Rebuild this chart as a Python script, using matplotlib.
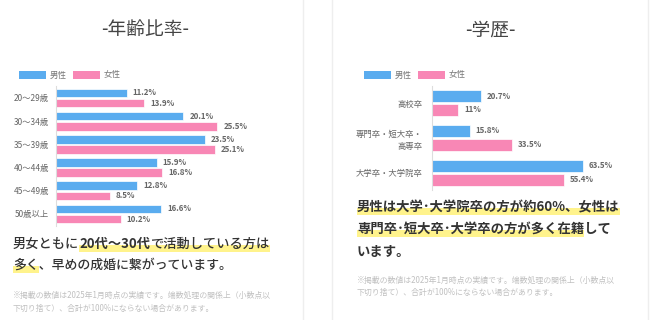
import matplotlib
matplotlib.use('Agg')
import matplotlib.pyplot as plt
from matplotlib.patches import Rectangle
import numpy as np

plt.rcParams['font.family'] = ['Noto Sans CJK JP', 'DejaVu Sans']

# データ
age_labels = ['20〜29歳', '30〜34歳', '35〜39歳', '40〜44歳', '45〜49歳', '50歳以上']
age_male = [11.2, 20.1, 23.5, 15.9, 12.8, 16.6]
age_female = [13.9, 25.5, 25.1, 16.8, 8.5, 10.2]

edu_labels = ['高校卒', '専門卒・短大卒・\n高専卒', '大学卒・大学院卒']
edu_male = [20.7, 15.8, 63.5]
edu_female = [11, 33.5, 55.4]

legend_labels = ['男性', '女性']

BLUE = '#5aacef'
PINK = '#f887b5'
W, H = 650, 320

fig = plt.figure(figsize=(W / 100, H / 100), dpi=100)
fig.patch.set_facecolor('white')


def fx(x):
    return x / W


def fy(y):
    return 1 - y / H


def add_rect(x0, y0, x1, y1, color, z=0):
    # ピクセル座標(左上基準)で矩形を置く
    fig.add_artist(Rectangle((fx(x0), fy(y1)), fx(x1) - fx(x0), fy(y0) - fy(y1),
                             transform=fig.transFigure, facecolor=color,
                             edgecolor='none', zorder=z))


def bar_panel(left, top, bottom, scale, width, labels, male, female, bh, off, pad):
    ax = fig.add_axes([fx(left), fy(bottom), width / W, (bottom - top) / H])
    n = len(labels)
    y = np.arange(n)
    b1 = ax.barh(y - off, male, height=bh, color=BLUE, edgecolor='white', linewidth=0.5)
    b2 = ax.barh(y + off, female, height=bh, color=PINK, edgecolor='white', linewidth=0.5)
    ax.set_xlim(0, width / scale)
    ax.set_ylim(n - 0.5, -0.5)
    ax.set_yticks(y)
    ax.set_yticklabels(labels, fontsize=6, color='#666666', linespacing=1.5)
    ax.tick_params(axis='y', length=0, pad=pad)
    ax.set_xticks([])
    for s in ['top', 'right', 'bottom']:
        ax.spines[s].set_visible(False)
    ax.spines['left'].set_color('#dddddd')
    ax.spines['left'].set_linewidth(0.8)
    for bars, vals in [(b1, male), (b2, female)]:
        for rect, v in zip(bars, vals):
            ax.annotate(f'{v:g}%', (rect.get_width(), rect.get_y() + rect.get_height() / 2),
                        xytext=(4.3, 0), textcoords='offset points', va='center',
                        ha='left', fontsize=5.7, fontweight='bold', color='#666666')
    return ax


def legend(x, y):
    for i, (lab, c) in enumerate(zip(legend_labels, [BLUE, PINK])):
        x0 = x + i * 54
        add_rect(x0, y - 4, x0 + 27, y + 4, c)
        fig.text(fx(x0 + 31), fy(y), lab, fontsize=6.1, color='#777777', va='center')


def text_w(s, size, weight):
    r = fig.canvas.get_renderer()
    t = fig.text(0, 0, s, fontsize=size, fontweight=weight)
    w = t.get_window_extent(r).width
    t.remove()
    return w


def rich_line(x, y, segments, size=9.6, hl_top=1, hl_bot=8):
    # segments: (文字列, 太字, マーカー)
    r = fig.canvas.get_renderer()
    # 同じ太さの部分はまとめて1つのテキストにする
    groups = []
    for s, bold, hl in segments:
        if groups and groups[-1][1] == bold:
            groups[-1][0] += s
        else:
            groups.append([s, bold])
    cx = x
    for s, bold in groups:
        t = fig.text(fx(cx), fy(y), s, fontsize=size, color='#333333',
                     fontweight='bold' if bold else 'medium', va='center', zorder=3)
        cx += t.get_window_extent(r).width
    # マーカー位置は前からの幅で測る
    prefix = {False: '', True: ''}
    pos = x
    for s, bold, hl in segments:
        w = text_w(s, size, 'bold' if bold else 'medium')
        if hl:
            add_rect(pos, y + hl_top, pos + w, y + hl_bot, '#fff38c', z=1)
        pos += w


# カード枠
for xl in [303, 332, 648]:
    fig.add_artist(plt.Line2D([fx(xl), fx(xl)], [0, 1], color='#eeeeee', lw=1,
                              transform=fig.transFigure))

# 左: 年齢比率
fig.text(fx(145), fy(30), '-年齢比率-', fontsize=13.5, color='#444444', ha='center', va='center')
legend(19, 75)
bar_panel(56, 86.4, 225.6, 6.33, 235, age_labels, age_male, age_female, 0.37, 0.22, 5)

fig.canvas.draw()
rich_line(13, 244, [('男女ともに', False, False), ('20代〜30代', True, True),
                    ('で活動している方は', False, True)], size=9.5)
rich_line(13, 265, [('多く', False, True), ('、早めの成婚に繋がっています。', False, False)], size=9.3)

note1 = '※掲載の数値は2025年1月時点の実績です。端数処理の関係上（小数点以'
note2 = '下切り捨て）、合計が100%にならない場合があります。'
fig.text(fx(13), fy(295), note1, fontsize=5.7, color='#c0c0c0', va='center')
fig.text(fx(13), fy(308), note2, fontsize=5.7, color='#c0c0c0', va='center')

# 右: 学歴
fig.text(fx(490), fy(30), '-学歴-', fontsize=13.5, color='#444444', ha='center', va='center')
legend(364, 75)
bar_panel(432, 85.6, 190, 2.375, 200, edu_labels, edu_male, edu_female, 0.345, 0.2, 7)

rich_line(357, 207, [('男性は大学･大学院卒の方が約60%、女性は', True, True)], size=9.6)
rich_line(357, 229, [('専門卒･短大卒･大学卒の方が多く在籍', True, True), ('して', True, False)], size=9.6)
rich_line(357, 252, [('います。', True, False)], size=9.6)
fig.text(fx(357), fy(280.5), note1, fontsize=5.7, color='#c0c0c0', va='center')
fig.text(fx(357), fy(292.5), note2, fontsize=5.7, color='#c0c0c0', va='center')

fig.savefig('out.png', dpi=100)
